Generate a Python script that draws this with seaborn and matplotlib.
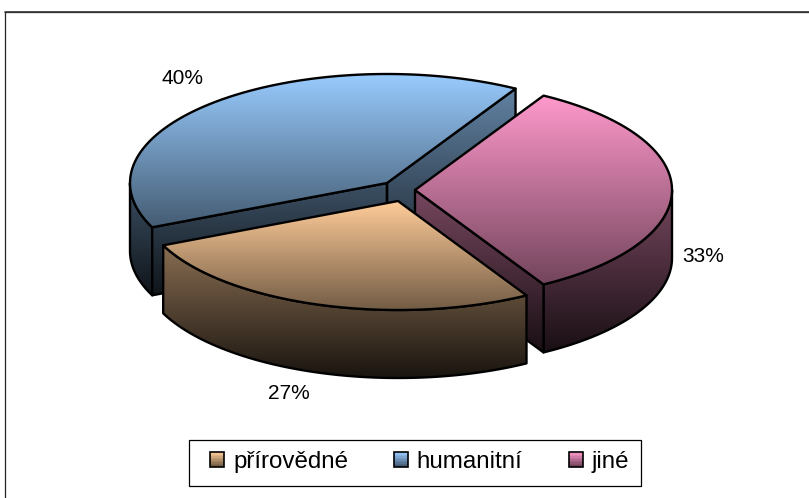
import matplotlib

matplotlib.use("Agg")
import matplotlib.pyplot as plt
import numpy as np
import seaborn as sns
from matplotlib.colors import to_rgb
from matplotlib.legend_handler import HandlerPatch
from matplotlib.patches import Patch, Polygon, Rectangle

CATEGORIES = ["přírovědné", "humanitní", "jiné"]
SHARES = [26.67, 40.0, 33.33]
COLORS = ["#FFCC99", "#99CCFF", "#FF99CC"]

# drawing setup, in pixels of the 809x498 canvas
START_ANGLE = 300
RX, RY, DEPTH = 257, 109, 68
CENTERS = [(398, 201), (387, 183), (415, 190)]
LABEL_POS = [(289, 393), (183, 78), (703, 256)]
DRAW_ORDER = [1, 2, 0]


def shade(color, factor):
    return tuple(np.array(to_rgb(color)) * factor)


def top_cmap(color):
    return sns.blend_palette([color, shade(color, 0.45)], 256, as_cmap=True)


def side_cmap(color):
    return sns.blend_palette([shade(color, 0.68), shade(color, 0.1)], 256, as_cmap=True)


def arc(center, t0, t1, n=120):
    t = np.radians(np.linspace(t0, t1, n))
    return np.column_stack([center[0] + RX * np.cos(t), center[1] - RY * np.sin(t)])


def fill_face(ax, xy, cmap, y0, y1, z):
    xy = np.asarray(xy)
    poly = Polygon(xy, closed=True, fc="none", ec="black", lw=1.7, joinstyle="round", zorder=z + 0.05)
    ax.add_patch(poly)
    grad = np.linspace(0, 1, 256)[:, None]
    im = ax.imshow(
        grad,
        cmap=cmap,
        origin="upper",
        aspect="auto",
        extent=(xy[:, 0].min() - 2, xy[:, 0].max() + 2, y1, y0),
        zorder=z,
    )
    im.set_clip_path(poly)


def draw_slice(ax, center, t_hi, t_lo, color, z):
    cx, cy = center
    rim = arc(center, t_hi, t_lo)
    top = np.vstack([[cx, cy], rim])
    y0, y1 = top[:, 1].min(), top[:, 1].max()
    low_y = y1 + DEPTH
    side = side_cmap(color)

    # outer wall, only the part on the front half of the rim
    for a, b in [(180, 360), (-180, 0)]:
        lo, hi = max(t_lo, a), min(t_hi, b)
        if hi > lo:
            wall = arc(center, hi, lo)
            xy = np.vstack([wall, wall[::-1] + [0, DEPTH]])
            fill_face(ax, xy, side, y0, low_y, z)

    # cut walls, drawn when they turn towards the viewer
    for t, visible in [(t_hi, np.cos(np.radians(t_hi)) < 0), (t_lo, np.cos(np.radians(t_lo)) > 0)]:
        if visible:
            end = arc(center, t, t, 1)[0]
            xy = [(cx, cy), end, end + [0, DEPTH], (cx, cy + DEPTH)]
            fill_face(ax, xy, side, y0, low_y, z + 0.1)

    fill_face(ax, top, top_cmap(color), y0, y1, z + 0.2)


class GradientHandler(HandlerPatch):
    def create_artists(self, legend, orig, xd, yd, w, h, fontsize, trans):
        cmap = top_cmap(orig.get_facecolor())
        n = 10
        out = [
            Rectangle((-xd, -yd + h * i / n), w, h / n + 0.2, fc=cmap(1 - i / (n - 1)), ec="none", transform=trans)
            for i in range(n)
        ]
        out.append(Rectangle((-xd, -yd), w, h, fc="none", ec="black", lw=1.2, transform=trans))
        return out


sns.set_theme(style="white", font="Liberation Sans")
plt.rcParams["font.family"] = ["Liberation Sans", "DejaVu Sans"]

fig = plt.figure(figsize=(8.09, 4.98), dpi=100)
ax = fig.add_axes([0, 0, 1, 1])

# slice limits from the shares, going clockwise
sweeps = np.array(SHARES) / sum(SHARES) * 360
edges = START_ANGLE - np.concatenate([[0], np.cumsum(sweeps)])
for z, i in enumerate(DRAW_ORDER):
    draw_slice(ax, CENTERS[i], edges[i], edges[i + 1], COLORS[i], z + 2)

for share, (x, y) in zip(SHARES, LABEL_POS):
    ax.text(x, y, f"{share:.0f}%", ha="center", va="center", fontsize=15, color="black", zorder=20)

ax.add_patch(Rectangle((5.5, 12), 900, 600, fc="none", ec="#222222", lw=0.9, zorder=1))
ax.plot([5, 809], [11.5, 11.5], color="#333333", lw=1.2, zorder=1)

# legend box is wider than matplotlib's even padding, so it gets its own frame
ax.add_patch(Rectangle((189.5, 439.5), 452, 46, fc="white", ec="black", lw=0.9, zorder=19))
handles = [Patch(facecolor=c, label=n) for c, n in zip(COLORS, CATEGORIES)]
leg = ax.legend(
    handles=handles,
    handler_map={Patch: GradientHandler()},
    loc="center",
    bbox_to_anchor=(419.5, 462),
    bbox_transform=ax.transData,
    ncols=3,
    fontsize=17.4,
    labelcolor="black",
    frameon=False,
    handlelength=0.58,
    handleheight=0.58,
    handletextpad=0.37,
    columnspacing=1.9,
    borderpad=0,
    borderaxespad=0,
)
leg.set_zorder(20)

ax.set_xlim(0, 809)
ax.set_ylim(498, 0)
ax.axis("off")

fig.savefig("out.png", dpi=100)
